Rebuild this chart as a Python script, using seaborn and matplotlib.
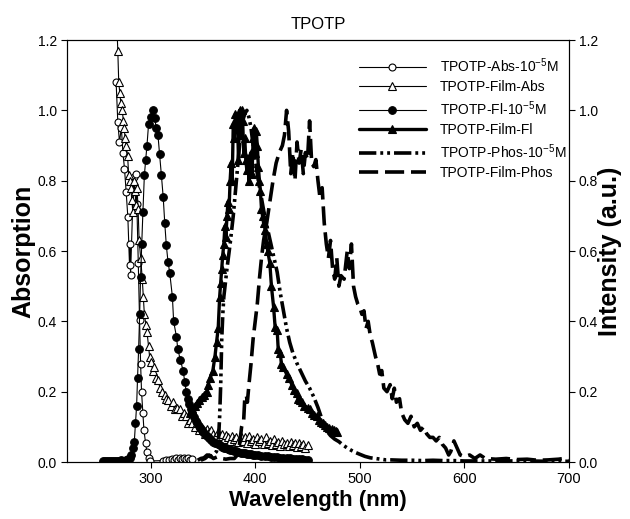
import numpy as np
import pandas as pd
import seaborn as sns
import matplotlib.pyplot as plt

# TPOTP absorption / emission spectra
abs_sol_wl = [267.0, 268.6, 270.2, 272.0, 273.5, 275.0, 276.6, 278.2, 279.8, 280.5, 280.8,
              283.7, 285.6, 286.8, 288.2, 289.4, 290.4, 291.3, 292.6, 293.6, 295.2, 296.4,
              298.1, 299.7, 312, 315, 318, 320, 322, 324, 326, 328, 330, 332, 334, 336, 338, 340]
abs_sol = [1.08, 0.967, 0.91, 0.95, 0.88, 0.834, 0.768, 0.697, 0.56, 0.621, 0.531,
           0.81, 0.818, 0.735, 0.565, 0.403, 0.28, 0.20, 0.138, 0.091, 0.053, 0.029,
           0.010, 0.003, 0.004, 0.006, 0.005, 0.008, 0.006, 0.010, 0.007, 0.011, 0.008, 0.012,
           0.009, 0.010, 0.006, 0.008]

film_abs_wl = [267.0, 268.6, 269.5, 270.5, 271.5, 272.8, 274.0, 274.7, 275.6, 276.6, 278.0, 279.0,
               280.0, 281.0, 282.0, 283.0, 284.0, 285.0, 286.0, 287.0, 288.0, 289.0, 290.5, 292.0,
               293.0, 294.0, 295.5, 296.5, 298.0, 299.0, 300.6, 302.0, 303.0, 305.0, 307.0, 309.0,
               311.0, 313.5, 315.0, 317.0, 319.0, 321.5, 323.0, 325.0, 328.0, 330.0, 332.0, 334.0,
               336.0, 338.0, 340.0, 342.0, 344.0, 346.0, 348.0, 350.0, 352.0, 354.0, 356.0, 358.0,
               360.0, 362.0, 364.0, 366.0, 368.0, 370.0, 372.0, 374.0, 376.0, 378.0, 380.0, 382.0,
               384.0, 386.0, 388.0, 390.0, 392.0, 394.0, 396.0, 398.0, 400.0, 402.0, 404.0, 406.0,
               408.0, 410.0, 412.0, 414.0, 416.0, 418.0, 420.0, 422.0, 424.0, 426.0, 428.0, 430.0,
               432.0, 434.0, 436.0, 438.0, 440.0, 442.0, 444.0, 446.0, 448.0, 450.0]
film_abs = [1.30, 1.17, 1.08, 1.05, 1.02, 1.00, 0.97, 0.95, 0.92, 0.90, 0.87, 0.815,
            0.80, 0.78, 0.745, 0.71, 0.80, 0.77, 0.73, 0.78, 0.72, 0.63, 0.58, 0.52,
            0.47, 0.42, 0.39, 0.37, 0.33, 0.30, 0.285, 0.26, 0.27, 0.24, 0.233, 0.21,
            0.20, 0.19, 0.18, 0.175, 0.16, 0.17, 0.15, 0.155, 0.15, 0.13, 0.14, 0.13,
            0.11, 0.12, 0.11, 0.10, 0.11, 0.09, 0.10, 0.095, 0.08, 0.095, 0.085, 0.09,
            0.08, 0.07, 0.085, 0.075, 0.08, 0.065, 0.078, 0.07, 0.06, 0.075, 0.065, 0.07,
            0.058, 0.075, 0.06, 0.07, 0.055, 0.075, 0.06, 0.065, 0.05, 0.07, 0.06, 0.065,
            0.05, 0.07, 0.055, 0.06, 0.048, 0.065, 0.05, 0.058, 0.045, 0.06, 0.05, 0.055,
            0.045, 0.058, 0.048, 0.055, 0.042, 0.055, 0.045, 0.05, 0.04, 0.048]

fl_sol_wl = [254, 256, 258, 260, 262, 264, 266, 268, 270, 272, 274, 276, 278, 280, 281.5, 283,
             284.4, 285.5, 286.6, 287.5, 288.5, 289.5, 290.4, 291.5, 292.6, 294.0, 295.3, 296.5,
             298.0, 300.0, 302.0, 303.8, 305.5, 307.0, 308.5, 310.3, 312.0, 313.5, 315.0, 316.6,
             318.3, 320.8, 322.0, 324.7, 326.0, 328.5, 331.0, 332.7, 334.0, 335.5, 337.0, 338.5,
             340.0, 341.5, 343.0, 344.5, 346.0, 347.5, 349.0, 350.5, 352, 354, 356, 358, 360,
             362, 364, 366, 368, 370, 372, 374, 376, 378, 380, 382, 384, 386, 388, 390, 392, 394,
             396, 398, 400, 403, 406, 409, 412, 415, 418, 421, 424, 427, 430, 433, 436, 439, 442,
             445, 448, 450]
fl_sol = [0.004, 0.003, 0.004, 0.003, 0.004, 0.003, 0.004, 0.003, 0.004, 0.005, 0.004, 0.006,
          0.008, 0.012, 0.02, 0.04, 0.058, 0.11, 0.16, 0.24, 0.32, 0.42, 0.526, 0.62, 0.71,
          0.815, 0.86, 0.90, 0.96, 0.98, 1.0, 0.977, 0.95, 0.93, 0.877, 0.815, 0.754, 0.68,
          0.616, 0.57, 0.537, 0.47, 0.40, 0.356, 0.32, 0.29, 0.26, 0.228, 0.20, 0.18, 0.165,
          0.15, 0.138, 0.128, 0.118, 0.11, 0.103, 0.096, 0.09, 0.085, 0.08, 0.074, 0.068,
          0.063, 0.058, 0.054, 0.05, 0.047, 0.044, 0.041, 0.039, 0.037, 0.035, 0.033, 0.031,
          0.03, 0.028, 0.027, 0.026, 0.025, 0.024, 0.023, 0.022, 0.021, 0.02, 0.019, 0.018,
          0.017, 0.016, 0.015, 0.014, 0.013, 0.012, 0.011, 0.011, 0.010, 0.009, 0.009, 0.008,
          0.008, 0.007, 0.007]

film_fl_wl = [338, 340, 342, 344, 346, 348.7, 351, 353.5, 355, 357, 359.5, 361.5, 363, 364.6,
              366, 367, 368, 369, 370, 371, 372, 373, 374, 375, 376, 377, 378, 379, 380, 381, 382,
              383, 384, 385, 386, 387, 388, 389, 390, 391, 392, 393, 394, 395, 396, 397, 398, 399,
              400, 401, 402, 403, 404, 405, 406, 407, 408, 409.6, 411, 412, 414, 415.5, 417.6, 419,
              421, 422, 424, 425, 427, 430, 432, 435, 437, 440, 441, 443, 445, 447, 450, 452, 454,
              456, 459, 461, 463, 465, 467, 469, 471, 473, 475, 477, 478.5]
film_fl = [0.14, 0.15, 0.16, 0.167, 0.175, 0.185, 0.19, 0.20, 0.22, 0.24, 0.26, 0.30, 0.34, 0.38,
           0.47, 0.51, 0.55, 0.59, 0.62, 0.67, 0.64, 0.70, 0.74, 0.72, 0.80, 0.85, 0.80, 0.96,
           0.92, 0.99, 0.95, 0.98, 0.86, 1.0, 0.93, 1.0, 0.97, 0.88, 0.92, 0.86, 0.83, 0.86,
           0.80, 0.85, 0.88, 0.82, 0.92, 0.95, 0.88, 0.94, 0.90, 0.84, 0.80, 0.77, 0.72, 0.70,
           0.68, 0.66, 0.62, 0.60, 0.565, 0.50, 0.44, 0.385, 0.375, 0.32, 0.31, 0.28, 0.27, 0.25,
           0.24, 0.22, 0.205, 0.195, 0.18, 0.175, 0.17, 0.16, 0.155, 0.15, 0.14, 0.135, 0.13,
           0.12, 0.115, 0.11, 0.105, 0.10, 0.098, 0.095, 0.09, 0.088, 0.086]

phos_sol_wl = [345, 348, 351, 354, 357, 360, 363, 365, 366, 367, 368, 369, 370, 373, 376, 379,
               382, 385, 388, 390, 392, 394, 396, 398, 400, 403, 406, 409, 412, 415, 418, 421,
               424, 427, 430, 433, 436, 440, 444, 448, 452, 456, 460, 464, 468, 472, 476, 480,
               484, 488, 492, 496, 500, 505, 510, 515, 520, 525, 530, 540, 550, 560, 570, 580,
               590, 600, 620, 640, 660, 680, 700]
phos_sol = [0.005, 0.01, 0.012, 0.02, 0.015, 0.02, 0.03, 0.07, 0.13, 0.22, 0.35, 0.42, 0.47,
            0.55, 0.62, 0.70, 0.80, 0.90, 0.97, 0.99, 1.0, 0.98, 0.95, 0.90, 0.86, 0.80, 0.75,
            0.70, 0.66, 0.62, 0.58, 0.54, 0.48, 0.43, 0.38, 0.34, 0.31, 0.28, 0.255, 0.23,
            0.21, 0.185, 0.155, 0.12, 0.09, 0.075, 0.065, 0.058, 0.048, 0.04, 0.033, 0.027,
            0.022, 0.016, 0.012, 0.01, 0.008, 0.006, 0.006, 0.005, 0.005, 0.004, 0.005, 0.004,
            0.004, 0.003, 0.003, 0.003, 0.003, 0.002, 0.002]

film_phos_wl = [348, 352, 356, 360, 364, 368, 372, 376, 380, 383, 385, 387, 389, 390, 391.5,
                392.5, 394, 396, 398, 400, 402, 404, 406, 408, 411, 414, 417, 420, 423, 426, 428,
                430, 432, 434, 436, 438, 440, 442, 444, 446, 448, 450, 452, 454, 456, 458, 460,
                462, 464, 466, 468, 470, 472, 474, 476, 478, 480, 482, 485, 488, 490, 492, 494,
                496, 498, 500, 502, 504, 506, 508, 510, 512, 515, 517, 519, 521, 523, 526, 529,
                531, 533, 535, 538, 540, 543, 546, 549, 552, 555, 558, 561, 564, 567, 570, 573,
                576, 579, 582, 585, 587, 590, 593, 596, 600, 605, 610, 615, 620, 630, 640, 650,
                660, 670, 680, 690, 695, 700]
film_phos = [0.005, 0.01, 0.02, 0.01, 0.015, 0.01, 0.008, 0.01, 0.01, 0.02, 0.05, 0.10, 0.12,
             0.18, 0.19, 0.17, 0.22, 0.28, 0.35, 0.40, 0.45, 0.52, 0.58, 0.63, 0.68, 0.74, 0.80,
             0.85, 0.88, 0.90, 0.93, 1.0, 0.94, 0.82, 0.88, 0.80, 0.91, 0.85, 0.89, 0.82, 0.88,
             0.86, 0.97, 0.85, 0.84, 0.86, 0.80, 0.75, 0.78, 0.68, 0.62, 0.58, 0.63, 0.55, 0.52,
             0.58, 0.50, 0.53, 0.52, 0.60, 0.55, 0.62, 0.50, 0.47, 0.45, 0.44, 0.42, 0.43, 0.38,
             0.40, 0.36, 0.34, 0.30, 0.28, 0.25, 0.26, 0.21, 0.20, 0.22, 0.18, 0.21, 0.17, 0.18,
             0.14, 0.12, 0.11, 0.13, 0.10, 0.11, 0.09, 0.10, 0.08, 0.07, 0.07, 0.06, 0.07, 0.05,
             0.04, 0.02, 0.03, 0.06, 0.04, 0.02, 0.015, 0.02, 0.01, 0.02, 0.01, 0.008, 0.01,
             0.007, 0.008, 0.005, 0.006, 0.008, 0.01, 0.005]

sns.set_style("ticks", rc={"axes.edgecolor": "black", "xtick.color": "black",
                           "ytick.color": "black", "text.color": "black",
                           "axes.labelcolor": "black"})
plt.rcParams['font.family'] = ['Liberation Sans', 'DejaVu Sans']
plt.rcParams['mathtext.fontset'] = 'custom'
plt.rcParams['mathtext.rm'] = 'Liberation Sans'
plt.rcParams['mathtext.it'] = 'Liberation Sans:italic'
plt.rcParams['mathtext.bf'] = 'Liberation Sans:bold'

fig = plt.figure(figsize=(6.3, 5.19), dpi=100)
ax = fig.add_axes([0.1063, 0.1098, 0.7968, 0.8131])
ax2 = ax.twinx()

# absorption on the left axis
sns.lineplot(x=abs_sol_wl, y=abs_sol, ax=ax, color="black", lw=0.8, marker="o",
             markersize=5, markerfacecolor="white", markeredgecolor="black",
             markeredgewidth=0.8, sort=False, estimator=None,
             label=r"TPOTP-Abs-10$^{-5}$M")
sns.lineplot(x=film_abs_wl, y=film_abs, ax=ax, color="black", lw=0.8, marker="^",
             markersize=5.5, markerfacecolor="white", markeredgecolor="black",
             markeredgewidth=0.8, sort=False, estimator=None,
             label="TPOTP-Film-Abs")

# emission on the right axis
sns.lineplot(x=fl_sol_wl, y=fl_sol, ax=ax2, color="black", lw=0.8, marker="o",
             markersize=5.5, markerfacecolor="black", markeredgecolor="black",
             markeredgewidth=0.8, sort=False, estimator=None,
             label=r"TPOTP-Fl-10$^{-5}$M")
sns.lineplot(x=film_fl_wl, y=film_fl, ax=ax2, color="black", lw=2.4, marker="^",
             markersize=6, markerfacecolor="black", markeredgecolor="black",
             markeredgewidth=0.8, sort=False, estimator=None,
             label="TPOTP-Film-Fl")
sns.lineplot(x=phos_sol_wl, y=phos_sol, ax=ax2, color="black", lw=2.6,
             linestyle=(0, (4.8, 1.1, 0.8, 1.1, 0.8, 1.1)), sort=False, estimator=None,
             label=r"TPOTP-Phos-10$^{-5}$M")
sns.lineplot(x=film_phos_wl, y=film_phos, ax=ax2, color="black", lw=2.6,
             linestyle=(0, (5.3, 1.9)), sort=False, estimator=None,
             label="TPOTP-Film-Phos")

for a in (ax, ax2):
    a.set_xlim(220, 700)
    a.set_ylim(0, 1.2)
    a.set_yticks([0.0, 0.2, 0.4, 0.6, 0.8, 1.0, 1.2])
    a.set_yticklabels(["0.0", "0.2", "0.4", "0.6", "0.8", "1.0", "1.2"])
    a.tick_params(direction="out", length=4, width=0.8, labelsize=10, pad=3)
    for s in a.spines.values():
        s.set_visible(True)
        s.set_linewidth(0.8)
        s.set_color("black")

ax.set_xticks([300, 400, 500, 600, 700])
ax.tick_params(axis="x", labelsize=10.5)
ax.set_xlabel("Wavelength (nm)", fontsize=16, fontweight="bold", labelpad=3)
ax.set_ylabel("Absorption", fontsize=18, fontweight="bold", labelpad=2)
ax2.set_ylabel("Intensity (a.u.)", fontsize=18, fontweight="bold", labelpad=0)
ax.set_title("TPOTP", fontsize=12, pad=8)

h1, l1 = ax.get_legend_handles_labels()
h2, l2 = ax2.get_legend_handles_labels()
if ax.get_legend():
    ax.get_legend().remove()
if ax2.get_legend():
    ax2.get_legend().remove()
ax2.legend(h1 + h2, l1 + l2, loc="upper left", bbox_to_anchor=(0.582, 0.962),
           frameon=False, fontsize=10, handlelength=4.8, handletextpad=1.0,
           labelspacing=0.38, borderpad=0, borderaxespad=0)

fig.savefig("out.png", dpi=100)
